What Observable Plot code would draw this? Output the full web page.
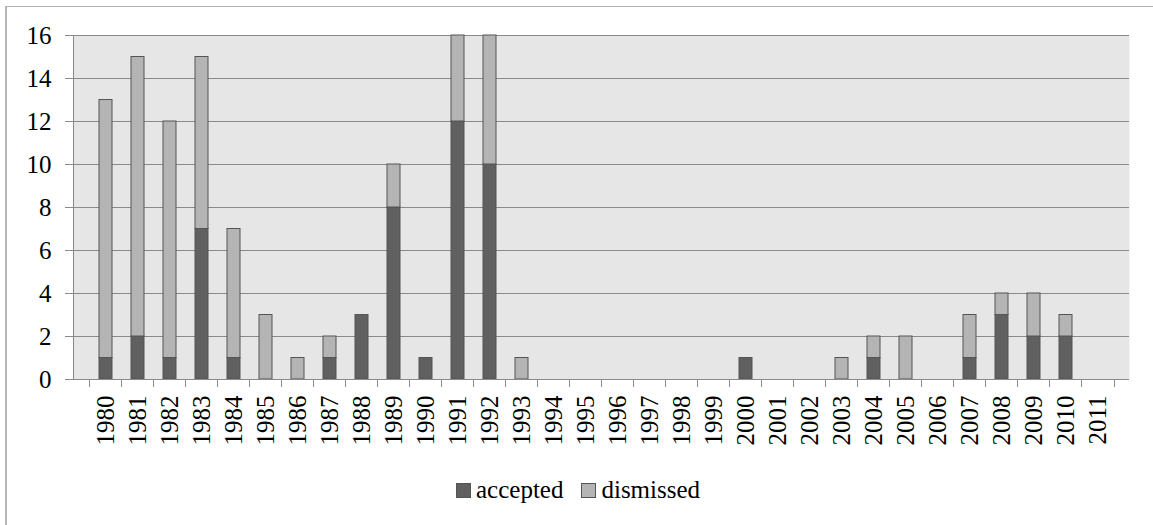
<!DOCTYPE html>
<html>
<head>
<meta charset="utf-8">
<script src="https://cdn.jsdelivr.net/npm/d3@7"></script>
<script src="https://cdn.jsdelivr.net/npm/@observablehq/plot@0.6"></script>
<style>
  html, body { margin: 0; padding: 0; background: #fff; }
  #wrap { position: relative; width: 1153px; height: 525px; overflow: hidden; font-family: "Liberation Serif", "Times New Roman", serif; }
  #frame { position: absolute; left: 5px; top: 6px; width: 1200px; height: 600px; border-left: 2px solid #b5b5b5; border-top: 1px solid #b0b0b0; box-sizing: border-box; pointer-events: none; }
  #chart { position: absolute; left: 0; top: 0; }
  #legend { position: absolute; left: 456px; top: 476px; height: 28px; display: flex; align-items: center; font-size: 25px; color: #000; }
  .item { display: flex; align-items: center; margin-right: 18px; }
  .sw { width: 13px; height: 13px; border: 1px solid #555; margin-right: 5px; }
</style>
</head>
<body>
<div id="wrap">
  <div id="chart"></div>
  <div id="legend"></div>
  <div id="frame"></div>
</div>
<script>
const years = d3.range(1980, 2012);
const accepted  = [1, 2, 1, 7, 1, 0, 0, 1, 3, 8, 1, 12, 10, 0, 0, 0, 0, 0, 0, 0, 1, 0, 0, 0, 1, 0, 0, 1, 3, 2, 2, 0];
const dismissed = [12, 13, 11, 8, 6, 3, 1, 1, 0, 2, 0, 4, 6, 1, 0, 0, 0, 0, 0, 0, 0, 0, 0, 1, 1, 2, 0, 2, 1, 2, 1, 0];
const seriesNames = ["accepted", "dismissed"];
const seriesColors = ["#606060", "#b4b4b4"];
const yTicks = [0, 2, 4, 6, 8, 10, 12, 14, 16];

const rows = [];
years.forEach((yr, i) => {
  rows.push({year: yr, series: "accepted", value: accepted[i]});
  rows.push({year: yr, series: "dismissed", value: dismissed[i]});
});
const bars = rows.filter(d => d.value > 0);

const W = 1153, H = 460, mL = 73, mR = 24, mT = 35, mB = 81;
const step = (W - mL - mR) / years.length;

const chart = Plot.plot({
  width: W,
  height: H,
  marginLeft: mL,
  marginRight: mR,
  marginTop: mT,
  marginBottom: mB,
  style: {fontFamily: "'Liberation Serif', 'Times New Roman', serif", fontSize: "25px", color: "#000", background: "transparent"},
  x: {type: "band", domain: years, padding: 0.6, label: null},
  y: {domain: [0, 16], label: null},
  color: {domain: seriesNames, range: seriesColors},
  marks: [
    Plot.frame({fill: "#e6e6e6", stroke: null}),
    Plot.gridY(yTicks, {stroke: "#8a8a8a", strokeOpacity: 1}),
    Plot.barY(bars, {x: "year", y: "value", fill: "series", stroke: "#555", strokeWidth: 1}),
    Plot.ruleY([0], {stroke: "#8a8a8a"}),
    Plot.frame({anchor: "left", stroke: "#8a8a8a"}),
    Plot.axisY({ticks: yTicks, tickSize: 8, tickPadding: 14, stroke: "#8a8a8a", fill: "#000", label: null}),
    Plot.ruleX(years, {x: d => d, y1: 0, y2: 0, insetBottom: -8, dx: -step / 2, stroke: "#8a8a8a"}),
    Plot.ruleX([years[years.length - 1]], {x: d => d, y1: 0, y2: 0, insetBottom: -8, dx: step / 2, stroke: "#8a8a8a"}),
    Plot.axisX({tickSize: 0, tickPadding: 16, tickRotate: -90, tickFormat: d => String(d), fill: "#000", label: null})
  ]
});
document.getElementById("chart").appendChild(chart);

const legend = document.getElementById("legend");
seriesNames.forEach((name, i) => {
  const it = document.createElement("div");
  it.className = "item";
  const sw = document.createElement("div");
  sw.className = "sw";
  sw.style.background = seriesColors[i];
  const t = document.createElement("span");
  t.textContent = name;
  it.appendChild(sw);
  it.appendChild(t);
  legend.appendChild(it);
});
</script>
</body>
</html>
